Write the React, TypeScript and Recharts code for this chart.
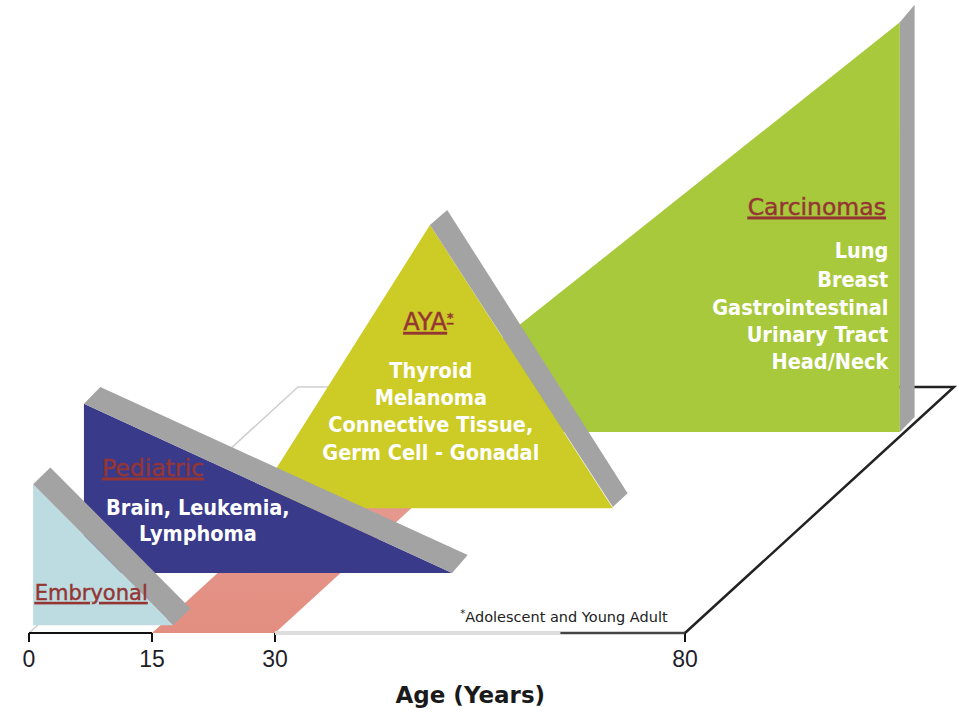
import React from 'react';
import { ComposedChart, XAxis, YAxis, Scatter } from 'recharts';

type Pt = { age: number; level: number };
const P = (age: number, level: number): Pt => ({ age, level });

// ---- axis ----
const ageTicks = [0, 15, 30, 80];
const axisTitle = 'Age (Years)';
const footnote = '*Adolescent and Young Adult';

// ---- groups and cancer types ----
const groups = ['Embryonal', 'Pediatric', 'AYA*', 'Carcinomas'];
const pediatricTypes = ['Brain, Leukemia,', 'Lymphoma'];
const ayaTypes = ['Thyroid', 'Melanoma', 'Connective Tissue,', 'Germ Cell - Gonadal'];
const carcinomaTypes = ['Lung', 'Breast', 'Gastrointestinal', 'Urinary Tract', 'Head/Neck'];

// ---- shapes in chart units (age, relative level) ----
const floorFrontEarly = [P(0, 0), P(15, 0)];
const floorFrontMid = [P(30, 0), P(64.8, 0)];
const floorFrontLate = [P(64.8, 0), P(80, 0)];
const floorLeftBack = [P(0, 0), P(32.8, 41), P(70, 41)];
const floorRightBack = [P(80, 0), P(112.8, 41), P(100, 41)];
const ayaAgeBand = [P(15, 0), P(30, 0), P(62.8, 41), P(47.8, 41)];

const carcinomaShape = [P(43.4, 33.5), P(106.2, 101.8), P(106.2, 33.5)];
const carcinomaEdge = [P(106.2, 101.8), P(108, 104.7), P(108, 36), P(106.2, 33.5)];
const ayaShape = [P(27.1, 20.8), P(48.9, 68), P(71.2, 20.8)];
const ayaEdge = [P(48.9, 68), P(51, 70.5), P(73, 23.3), P(71.2, 21)];
const pediatricShape = [P(6.7, 38.2), P(6.7, 10), P(51.6, 10)];
const pediatricEdge = [P(6.7, 38.2), P(8.7, 41), P(53.5, 13), P(51.6, 10)];
const embryonalShape = [P(0.5, 24.8), P(0.5, 1.3), P(17.6, 1.3)];
const embryonalEdge = [P(0.5, 24.8), P(2.6, 27.6), P(19.7, 4.1), P(17.6, 1.3)];

// ---- annotation anchors (chart units) ----
const titleAge = [0.7, 8.9, 48.7, 104.5];
const titleLevel = [5.5, 26.2, 50.5, 69.7];
const titleAlign = ['start', 'start', 'middle', 'end'];
const typeAge = [20.6, 49.0, 104.8];
const pediatricLevels = [19.7, 15.3];
const ayaLevels = [42.5, 38, 33.5, 28.8];
const carcinomaLevels = [62.5, 57.7, 53, 48.5, 44];
const footnoteAnchor = P(52.6, 1.8);

const C = {
  lightBlue: '#bcdce1',
  edge: '#a3a3a3',
  navy: '#3a3a8b',
  yellow: '#cdcb25',
  green: '#a8c93b',
  salmon: '#e1887a',
  red: '#943634',
};

const titleSizes = [21, 23.5, 24, 23.5];

type Label = Pt & { text: string; kind: string; anchor: string; idx: number };

const labelData: Label[] = [
  ...groups.map((g, i) => ({ age: titleAge[i], level: titleLevel[i], text: g, kind: 'title', anchor: titleAlign[i], idx: i })),
  ...pediatricTypes.map((t, i) => ({ age: typeAge[0], level: pediatricLevels[i], text: t, kind: 'item', anchor: 'middle', idx: i })),
  ...ayaTypes.map((t, i) => ({ age: typeAge[1], level: ayaLevels[i], text: t, kind: 'item', anchor: 'middle', idx: i })),
  ...carcinomaTypes.map((t, i) => ({ age: typeAge[2], level: carcinomaLevels[i], text: t, kind: 'item', anchor: 'end', idx: i })),
  { ...footnoteAnchor, text: footnote, kind: 'note', anchor: 'start', idx: 0 },
];

const textStyles: Record<string, any> = {
  title: {
    fontFamily: "'DejaVu Sans', sans-serif",
    fill: C.red,
    stroke: C.red,
    strokeWidth: 0.45,
    textDecoration: 'underline',
  },
  item: {
    fontFamily: "'DejaVu Sans Condensed', 'DejaVu Sans', sans-serif",
    fontStretch: 'condensed',
    fontWeight: 'bold',
    fontSize: 21.5,
    fill: '#ffffff',
  },
  note: { fontFamily: "'DejaVu Sans', sans-serif", fontSize: 14.5, fill: '#222222' },
};

const polygonLine = (fill: string) => (props: any) => {
  const pts = (props.points || []) as { x: number; y: number }[];
  return <polygon points={pts.map((p) => `${p.x},${p.y}`).join(' ')} fill={fill} stroke="none" />;
};

const polylineLine = (stroke: string, width: number) => (props: any) => {
  const pts = (props.points || []) as { x: number; y: number }[];
  return (
    <polyline
      points={pts.map((p) => `${p.x},${p.y}`).join(' ')}
      fill="none"
      stroke={stroke}
      strokeWidth={width}
      strokeLinejoin="miter"
    />
  );
};

const NoPoint = () => <g />;

const TextMark = (props: any) => {
  const { cx, cy, payload } = props;
  const s = { ...textStyles[payload.kind] };
  if (payload.kind === 'title') s.fontSize = titleSizes[payload.idx];
  const text: string = payload.text;
  let content: React.ReactNode = text;
  if (text.endsWith('*')) {
    content = (
      <>
        {text.slice(0, -1)}
        <tspan fontSize={13} dy={-8}>*</tspan>
      </>
    );
  } else if (text.startsWith('*')) {
    content = (
      <>
        <tspan fontSize={10} dy={-5}>*</tspan>
        <tspan dy={5}>{text.slice(1)}</tspan>
      </>
    );
  }
  return (
    <text x={cx} y={cy} textAnchor={payload.anchor} {...s}>
      {content}
    </text>
  );
};

const fillSeries = (data: Pt[], fill: string) => (
  <Scatter data={data} line={polygonLine(fill)} shape={NoPoint} isAnimationActive={false} legendType="none" />
);
const strokeSeries = (data: Pt[], stroke: string, width: number) => (
  <Scatter data={data} line={polylineLine(stroke, width)} shape={NoPoint} isAnimationActive={false} legendType="none" />
);

export default function App() {
  return (
    <div style={{ position: 'absolute', left: 0, top: 0, background: '#fff' }}>
      <ComposedChart width={959} height={713} margin={{ top: 3, right: 3.4, bottom: 0, left: 29 }}>
        <defs>
          <linearGradient id="ayaBandGrad" x1="0" y1="1" x2="0" y2="0">
            <stop offset="0" stopColor={C.salmon} stopOpacity={0.95} />
            <stop offset="0.6" stopColor={C.salmon} stopOpacity={0.85} />
            <stop offset="1" stopColor={C.salmon} stopOpacity={0.15} />
          </linearGradient>
        </defs>
        <XAxis
          type="number"
          dataKey="age"
          domain={[0, 113]}
          ticks={ageTicks}
          interval={0}
          height={80}
          axisLine={false}
          tickLine={{ stroke: '#111', strokeWidth: 2 }}
          tickSize={9}
          tickMargin={9}
          tick={{ fontSize: 23, fill: '#1e1e2a', fontFamily: "'Liberation Sans', Arial, sans-serif" }}
          label={{
            value: axisTitle,
            position: 'insideBottom',
            offset: 10,
            dx: -22,
            style: { fontFamily: "'DejaVu Sans', sans-serif", fontWeight: 'bold', fontSize: 23, fill: '#1a1a1a' },
          }}
        />
        <YAxis type="number" dataKey="level" domain={[0, 105]} hide />

        {fillSeries(ayaAgeBand, 'url(#ayaBandGrad)')}
        {strokeSeries(floorLeftBack, '#cfcfcf', 1.5)}
        {strokeSeries(floorFrontEarly, '#111111', 2)}
        {strokeSeries(floorFrontMid, '#dddddd', 4)}
        {strokeSeries(floorFrontLate, '#444444', 2.5)}
        {strokeSeries(floorRightBack, '#222222', 2.5)}

        {fillSeries(carcinomaShape, C.green)}
        {fillSeries(carcinomaEdge, C.edge)}
        {fillSeries(ayaShape, C.yellow)}
        {fillSeries(ayaEdge, C.edge)}
        {fillSeries(pediatricShape, C.navy)}
        {fillSeries(pediatricEdge, C.edge)}
        {fillSeries(embryonalShape, C.lightBlue)}
        {fillSeries(embryonalEdge, C.edge)}

        <Scatter data={labelData} shape={TextMark} isAnimationActive={false} legendType="none" />
      </ComposedChart>
    </div>
  );
}
